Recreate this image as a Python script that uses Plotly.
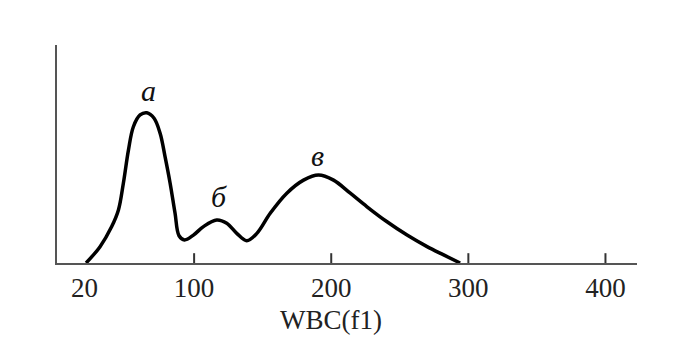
import plotly.graph_objects as go

# WBC histogram curve (volume fl vs relative count)
volume = [21.2, 31.4, 39.9, 44.8, 48.4, 52.1, 55.7, 60.6, 65.5, 70.8, 75.2, 78.8, 82.5, 86.1,
          89.0, 93.0, 99.5, 106.8, 116.5, 123.8, 131.1, 138.4, 145.8, 155.5, 167.6, 179.8,
          190.7, 201.7, 213.9, 226.1, 240.7, 255.3, 269.9, 282.0, 294.0]
count = [0, 7.5, 16.7, 24.3, 36.6, 51.8, 62.5, 67.9, 68.9, 66.4, 59.5, 48.8, 36.6, 22.8,
         12.5, 10.6, 12.8, 16.7, 19.7, 18.2, 13.6, 10.2, 13.6, 22.8, 32.0, 38.0,
         40.4, 38.0, 32.0, 25.8, 18.9, 12.8, 7.5, 3.7, 0]

tick_vals = [20, 100, 200, 300, 400]
tick_text = ["20", "100", "200", "300", "400"]
mark_vals = [100, 200, 300, 400]
mark_height = 4.5   # tick-mark height in y units

peak_labels = ["а", "б", "в"]
peak_x = [67, 118, 190]
peak_y = [79, 30.7, 49.5]

axis_title = "WBC(f1)"

fig = go.Figure()
fig.add_trace(go.Scatter(x=volume, y=count, mode="lines",
                         line=dict(color="black", width=3.5, shape="spline", smoothing=1.0),
                         hoverinfo="skip", showlegend=False))

# upward tick marks on the x axis, one shape per value in mark_vals
for v in mark_vals:
    fig.add_shape(type="line", xref="x", yref="y", x0=v, x1=v, y0=0, y1=mark_height,
                  line=dict(color="#333", width=2), layer="above")

serif = "Liberation Serif"
for t, x, y in zip(peak_labels, peak_x, peak_y):
    fig.add_annotation(x=x, y=y, text=t, showarrow=False,
                       font=dict(family=serif, size=30, color="#111", style="italic"))

fig.add_annotation(x=200, y=-0.261, xref="x", yref="paper", yanchor="middle", text=axis_title,
                   showarrow=False, font=dict(family=serif, size=27, color="#222"))

fig.update_layout(
    width=675, height=351,
    margin=dict(l=57, r=38, t=45, b=88),
    paper_bgcolor="white", plot_bgcolor="white",
    xaxis=dict(range=[0, 423], tickmode="array", tickvals=tick_vals, ticktext=tick_text,
               ticks="", tickfont=dict(family=serif, size=27, color="#222"),
               ticklabelstandoff=0,
               showline=True, linecolor="#555", linewidth=1.5, showgrid=False, zeroline=False),
    yaxis=dict(range=[0, 100], showline=True, linecolor="#555", linewidth=1.5,
               showticklabels=False, ticks="", showgrid=False, zeroline=False),
)

fig.write_html("out.html", post_script="document.body.style.margin='0';",
               config={"displayModeBar": False})
